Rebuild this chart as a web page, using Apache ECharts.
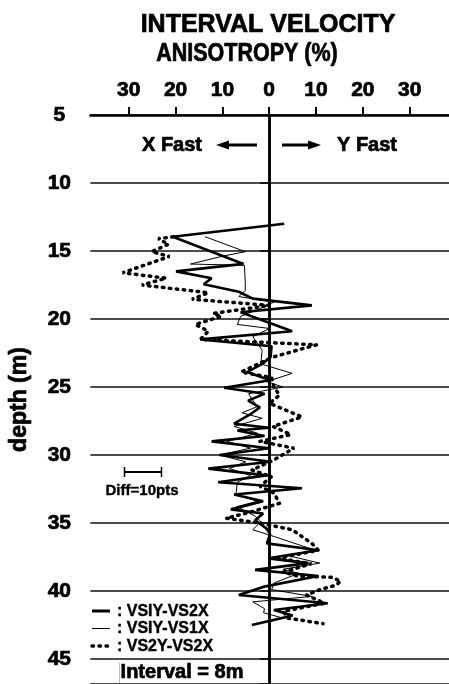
<!DOCTYPE html>
<html>
<head>
<meta charset="utf-8">
<script src="https://cdn.jsdelivr.net/npm/echarts@6/dist/echarts.min.js"></script>
<style>
  html, body { margin: 0; padding: 0; background: #fff; }
  #chart { width: 449px; height: 684px; }
</style>
</head>
<body>
<div id="chart"></div>
<script>
// Interval velocity anisotropy (%) against depth (m); negative = X fast, positive = Y fast
const xTicks = [-30, -20, -10, 0, 10, 20, 30];
const depthTicks = [5, 10, 15, 20, 25, 30, 35, 40, 45];

const seriesNames = ['VSIY-VS2X', 'VSIY-VS1X', 'VS2Y-VS2X'];

// VSIY-VS2X
const depthA = [13.0, 13.95, 15.95, 16.5, 17.0, 17.45, 18.0, 18.5, 19.0, 19.5, 20.9, 21.5, 22.0, 22.8, 23.3,
  23.9, 24.5, 25.05, 25.5, 26.0, 26.5, 27.0, 27.7, 28.0, 28.2, 28.6, 29.0, 29.5, 30.0, 30.5, 31.0, 31.5,
  32.0, 32.45, 32.9, 33.4, 34.0, 34.3, 34.8, 35.4, 35.8, 36.5, 37.0, 37.6, 37.95, 38.45, 38.9, 39.7,
  40.3, 40.9, 41.4, 41.8, 42.5];
const valueA = [3.2, -20.6, -5.5, -19.9, -12.3, -14.0, -6.5, -3.5, 9.1, -6.1, 4.9, -14.7, 0.5, 0.3, -1.5,
  -4.7, 0.2, -9.6, -1, -4.5, -2, -4, -7.5, 0, -6.8, -1, -12.3, 0, -10.6, 0.3, -13, -0.6,
  -10.9, 7.0, -7.5, -1.3, -8.2, -1.3, -3, -0.6, 0.2, -0.5, 10.5, -0.2, 8.4, -3.0, 10.5, -1.3,
  -6.5, 12.5, 1, 5, -3.7];

// VSIY-VS1X
const depthB = [13.95, 15.05, 15.4, 15.96, 16.05, 17.4, 17.9, 18.35, 18.75, 19.1, 19.8, 20.4, 20.7, 21.3,
  22.3, 23.3, 24.0, 24.6, 25.0, 25.5, 26.45, 26.9, 27.3, 27.9, 28.4, 29.0, 29.5, 30.0, 30.5, 31.0, 31.5,
  32.0, 32.9, 33.4, 33.8, 34.5, 34.9, 35.5, 36.0, 37.0, 37.4, 37.95, 38.4, 38.7, 39.4, 39.9, 40.4,
  40.8, 41.3, 41.6, 42.0, 42.3];
const valueB = [-13.7, -5.1, -10.2, -16.8, -5.3, -5.1, -5.1, -6.5, 1.0, -1, -6.1, -6.8, 0.1, -3.5,
  -1.5, -1.8, 4.9, -0.5, 2.9, -4.4, -2.6, -5.8, -1.5, -7.5, -2.5, -9, -4, -10.6, -5, -8.5, -4,
  -6.8, -7.1, -2.5, -6.9, -3, -1.8, -3.5, 1.1, 9.8, 4, 10.8, 3, 6.3, 1.1, 0.5, 9.1,
  -3.5, -1, -1.2, 3, -0.5];

// VS2Y-VS2X
const depthC = [13.95, 14.1, 14.5, 15.05, 15.4, 16.6, 17.0, 17.5, 18.07, 18.55, 19.0, 19.6, 19.8, 20.4,
  20.9, 21.5, 21.9, 22.8, 23.9, 24.3, 25.0, 25.6, 26.2, 27.2, 27.9, 28.5, 29.0, 29.5, 30.4, 31.1, 31.6,
  32.3, 32.8, 33.55, 34.2, 34.65, 35.0, 35.5, 36.5, 37.0, 37.6, 38.0, 38.6, 38.9, 39.0, 39.3, 39.6,
  39.9, 40.3, 40.9, 41.5, 42.0, 42.4];
const valueC = [-20.5, -23.7, -21.5, -25.1, -21.3, -31.3, -22, -27.2, -13, -16.5, 0.1, -12, -10.2, -15.8,
  -13, -14.7, 10.1, 0.8, -6, 0.5, 1.0, 2.2, 0.1, 7.0, 0.8, 4.6, -2, 5.3, 0.8, -3.7, 0.5,
  -2, 1, 2.2, -4, -9.2, -2, 4.9, 9.1, 10.5, 1.8, 9, 3, 6, 13.5, 15.3, 14.0,
  10.8, 8.0, 11.8, 3, 4, 11.5];

const pairs = (vals, depths) => vals.map((v, i) => [v, depths[i]]);
const FONT = '"Liberation Sans", Arial, Helvetica, sans-serif';

// line styles shared by the traces and their key
const styleA = { color: '#000', width: 2.6 };
const styleB = { color: '#000', width: 1 };
const styleC = { color: '#000', width: 3.5, type: [1.5, 5.5], cap: 'round' };

// heavy black lettering
function label(text, x, y, size, extra) {
  return Object.assign({
    type: 'text', x: x, y: y,
    style: {
      text: text, fill: '#000', font: 'bold ' + size + 'px ' + FONT,
      align: 'center', verticalAlign: 'middle',
      stroke: '#000', lineWidth: 0.7
    }
  }, extra || {});
}

const chart = echarts.init(document.getElementById('chart'), null, { renderer: 'canvas' });

const keyRows = [611, 628.5, 646];
const keyStyles = [
  { stroke: '#000', lineWidth: 3 },
  { stroke: '#000', lineWidth: 1 },
  { stroke: '#000', lineWidth: 3.5, lineDash: [1.5, 5.5], lineCap: 'round' }
];
const keyGraphics = [];
seriesNames.forEach((n, i) => {
  keyGraphics.push({ type: 'line', shape: { x1: 92, y1: keyRows[i], x2: 110, y2: keyRows[i] }, style: keyStyles[i] });
  keyGraphics.push({
    type: 'text', x: 117, y: keyRows[i] + 0.5,
    style: { text: ': ' + n, fill: '#000', font: 'bold 16px ' + FONT, align: 'left', verticalAlign: 'middle', stroke: '#000', lineWidth: 0.4 }
  });
});

const option = {
  backgroundColor: '#ffffff',
  animation: false,
  grid: { left: 85, top: 115, width: 370, height: 569, containLabel: false },
  xAxis: {
    type: 'value',
    position: 'top',
    min: -38.2,
    max: 38.4,
    axisLine: { show: true, lineStyle: { color: '#000', width: 2.5 } },
    axisTick: { show: true, customValues: xTicks, length: 8, lineStyle: { color: '#000', width: 2 } },
    axisLabel: {
      show: true,
      customValues: xTicks,
      margin: 14,
      color: '#000',
      fontFamily: FONT,
      fontWeight: 'bold',
      fontSize: 21,
      textBorderColor: '#000',
      textBorderWidth: 0.7,
      formatter: v => String(Math.abs(v))
    },
    splitLine: { show: false }
  },
  yAxis: {
    type: 'value',
    inverse: true,
    min: 5,
    max: 46.84,
    interval: 5,
    name: 'depth (m)',
    nameLocation: 'middle',
    nameGap: 59,
    nameRotate: 90,
    nameTextStyle: { color: '#000', fontFamily: FONT, fontWeight: 'bold', fontSize: 23, textBorderColor: '#000', textBorderWidth: 0.7 },
    axisLine: { show: true, lineStyle: { color: '#000', width: 2.5 } },
    axisTick: { show: true, length: 9, lineStyle: { color: '#000', width: 1.5 } },
    axisLabel: {
      margin: 31,
      align: 'center',
      color: '#000',
      fontFamily: FONT,
      fontWeight: 'bold',
      fontSize: 21,
      textBorderColor: '#000',
      textBorderWidth: 0.7,
      formatter: v => (depthTicks.indexOf(v) >= 0 ? String(v) : '')
    },
    splitLine: { show: true, lineStyle: { color: '#111', width: 1.5 } }
  },
  series: [
    {
      name: seriesNames[1],
      type: 'line',
      data: pairs(valueB, depthB),
      symbol: 'none',
      lineStyle: styleB,
      z: 3
    },
    {
      name: seriesNames[2],
      type: 'line',
      data: pairs(valueC, depthC),
      symbol: 'none',
      lineStyle: styleC,
      z: 2
    },
    {
      name: seriesNames[0],
      type: 'line',
      data: pairs(valueA, depthA),
      symbol: 'none',
      lineStyle: styleA,
      z: 4,
      markLine: {
        silent: true,
        symbol: ['none', 'none'],
        label: { show: false },
        lineStyle: { color: '#000', width: 2.5, type: 'solid' },
        data: [{ xAxis: 0 }]
      }
    }
  ],
  graphic: [
    label('INTERVAL VELOCITY', 268, 25, 25),
    label('ANISOTROPY (%)', 247, 54, 25, { scaleX: 0.86, originX: 0, originY: 0 }),
    label('X Fast', 172, 145, 20),
    label('Y Fast', 367, 145, 20),
    // direction arrows
    { type: 'line', shape: { x1: 226, y1: 145, x2: 257, y2: 145 }, style: { stroke: '#000', lineWidth: 3 } },
    { type: 'polygon', shape: { points: [[216, 145], [229, 140.5], [229, 149.5]] }, style: { fill: '#000' } },
    { type: 'line', shape: { x1: 282, y1: 145, x2: 311, y2: 145 }, style: { stroke: '#000', lineWidth: 3 } },
    { type: 'polygon', shape: { points: [[321, 145], [308, 140.5], [308, 149.5]] }, style: { fill: '#000' } },
    // difference scale bar
    { type: 'line', shape: { x1: 124, y1: 472, x2: 162, y2: 472 }, style: { stroke: '#000', lineWidth: 2 } },
    { type: 'line', shape: { x1: 124.5, y1: 467, x2: 124.5, y2: 477 }, style: { stroke: '#000', lineWidth: 1.5 } },
    { type: 'line', shape: { x1: 161.5, y1: 467, x2: 161.5, y2: 477 }, style: { stroke: '#000', lineWidth: 1.5 } },
    label('Diff=10pts', 142, 491, 15, { style: { text: 'Diff=10pts', fill: '#000', font: 'bold 15px ' + FONT, align: 'center', verticalAlign: 'middle', stroke: '#000', lineWidth: 0.4 } }),
    { type: 'line', shape: { x1: 119.5, y1: 663, x2: 119.5, y2: 684 }, style: { stroke: '#bbb', lineWidth: 1 } },
    label('Interval = 8m', 182, 672, 20)
  ].concat(keyGraphics)
};

chart.setOption(option);
</script>
</body>
</html>
